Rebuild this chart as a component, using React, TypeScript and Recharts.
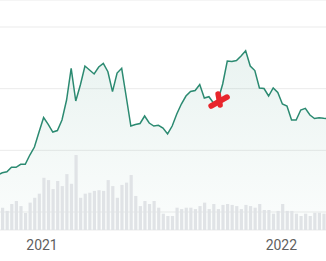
import { ComposedChart, Area, Bar, XAxis, YAxis, CartesianGrid, ReferenceDot } from 'recharts';

// weekly closes, first and last week sit just outside the visible window
const weeklyClose = [
  160.0, 163.6, 165.3, 172.5, 172.5, 177.3, 177.3, 192.4, 205.4, 229.7, 253.2,
  242.2, 229.7, 232.1, 249.2, 281.6, 333.0, 280.0, 305.9, 336.7, 330.3, 323.8,
  335.1, 341.1, 327.5, 295.1, 325.4, 333.0, 286.5, 239.4, 241.9, 243.5, 255.7,
  244.3, 239.4, 240.6, 236.2, 226.5, 239.4, 258.9, 275.1, 288.1, 295.4, 297.0,
  306.7, 284.9, 287.0, 276.7, 281.6, 307.6, 344.9, 344.0, 345.7, 353.0, 361.4,
  336.7, 329.4, 301.1, 300.3, 288.1, 301.1, 293.8, 275.1, 271.9, 249.2, 249.2,
  265.4, 268.1, 257.3, 251.6, 252.7, 251.9, 251.3,
];

const weeklyVolume = [
  null,
  9.7, 8.3, 11.3, 12.6, 10.4, 7.4, 11.9, 14.0, 15.8, 22.7, 21.7, 17.8,
  21.3, 19.1, 24.3, 20.1, 32.6, 14.0, 15.8, 16.2, 17.0, 17.3, 17.0, 21.7,
  19.1, 14.0, 19.6, 20.6, 23.9, 14.8, 10.4, 12.6, 11.3, 12.6, 9.7, 7.1,
  6.1, 6.1, 9.7, 9.1, 9.7, 9.7, 9.1, 10.4, 11.9, 9.1, 11.3, 9.1,
  10.9, 11.3, 10.9, 10.4, 9.1, 10.9, 10.4, 9.7, 11.3, 8.7, 8.7, 7.1,
  8.3, 11.3, 8.3, 8.3, 7.1, 6.1, 7.1, 6.1, 7.5, 7.5, 7.1,
  null,
];

const yearLabels = ['2021', '2022'];
const yearTickWeeks = [8.65, 60.78];
const priceTicks = [100, 200, 300, 400];
const markerWeek = 47;

const data = weeklyClose.map((close, k) => ({
  week: k - 1,
  close,
  volume: weeklyVolume[k],
}));

const markerClose = data.find((d) => d.week === markerWeek)!.close;

function CrossMark(props: any) {
  const { cx, cy } = props;
  if (cx == null || cy == null) return null;
  return (
    <g stroke="#e8262c" strokeWidth={5.5} strokeLinecap="round">
      <line x1={cx - 7} y1={cy + 6} x2={cx + 9} y2={cy - 3} />
      <line x1={cx} y1={cy - 6} x2={cx + 2} y2={cy + 5} />
    </g>
  );
}

export default function App() {
  return (
    <div style={{ position: 'fixed', left: 0, top: 0, width: 326, height: 261, overflow: 'hidden', background: '#fff' }}>
      <ComposedChart width={326} height={261} data={data} margin={{ top: 0, right: 0, left: 0, bottom: 0 }}>
        <defs>
          <linearGradient id="closeFill" x1="0" y1="0" x2="0" y2="1">
            <stop offset="0%" stopColor="#2b8a71" stopOpacity={0.17} />
            <stop offset="100%" stopColor="#2b8a71" stopOpacity={0.03} />
          </linearGradient>
        </defs>
        <CartesianGrid yAxisId="price" vertical={false} stroke="#ebebeb" />
        <XAxis
          dataKey="week"
          type="number"
          domain={[-0.5, 70.5]}
          allowDataOverflow
          ticks={yearTickWeeks}
          interval={0}
          tickFormatter={(v: number) => yearLabels[yearTickWeeks.indexOf(v)] ?? ''}
          axisLine={false}
          tickLine={false}
          tickMargin={4}
          height={31}
          tick={{ fill: '#5f5f5f', fontSize: 14, fontFamily: 'Roboto' }}
        />
        <YAxis yAxisId="price" hide domain={[70.8, 443.8]} ticks={priceTicks} allowDataOverflow />
        <YAxis yAxisId="volume" hide domain={[0, 100]} allowDataOverflow />
        <Area
          yAxisId="price"
          type="linear"
          dataKey="close"
          stroke="#2b8a71"
          strokeWidth={1.5}
          fill="url(#closeFill)"
          isAnimationActive={false}
          dot={false}
          activeDot={false}
        />
        <Bar yAxisId="volume" dataKey="volume" fill="#e0e3e6" barSize={3.2} isAnimationActive={false} />
        <ReferenceDot yAxisId="price" x={markerWeek} y={markerClose} shape={<CrossMark />} />
      </ComposedChart>
    </div>
  );
}
